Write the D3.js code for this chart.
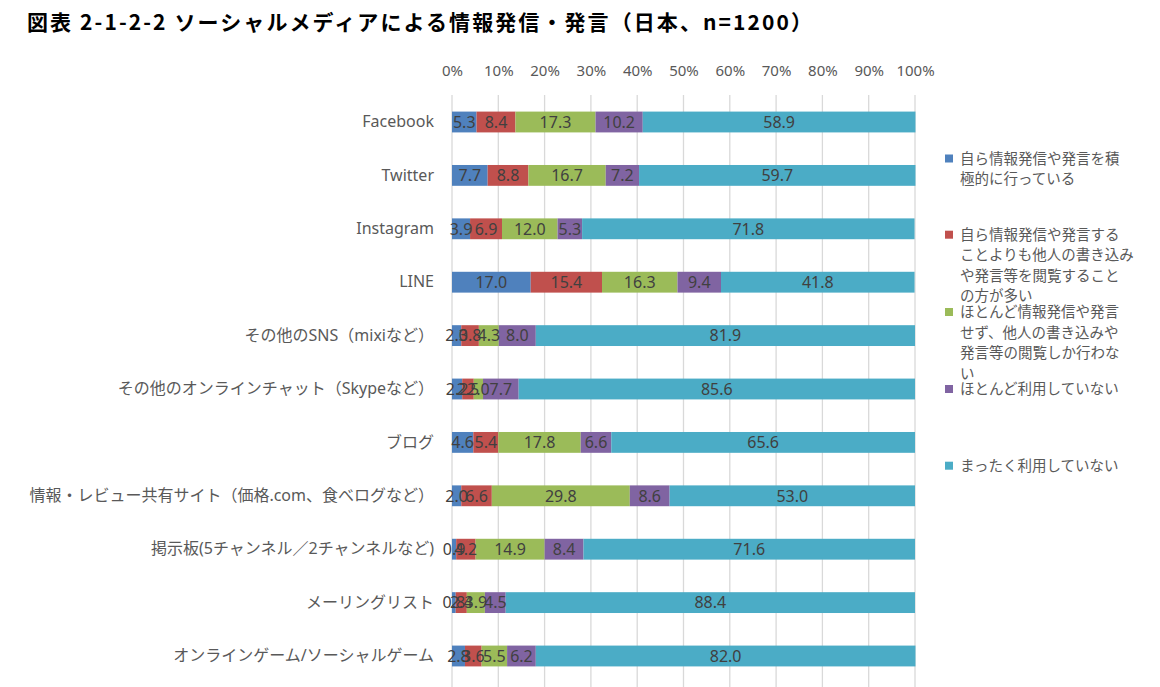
<!DOCTYPE html>
<html><head><meta charset="utf-8">
<script src="https://cdn.jsdelivr.net/npm/d3@7"></script>
<style>body{margin:0;background:#fff;} svg{display:block;}</style>
</head><body>
<svg id="c" width="1160" height="687"></svg>
<script>
const categories = ["Facebook","Twitter","Instagram","LINE","その他のSNS（mixiなど）","その他のオンラインチャット（Skypeなど）","ブログ","情報・レビュー共有サイト（価格.com、食べログなど）","掲示板(5チャンネル／2チャンネルなど)","メーリングリスト","オンラインゲーム/ソーシャルゲーム"];
const seriesNames = ["自ら情報発信や発言を積極的に行っている","自ら情報発信や発言することよりも他人の書き込みや発言等を閲覧することの方が多い","ほとんど情報発信や発言せず、他人の書き込みや発言等の閲覧しか行わない","ほとんど利用していない","まったく利用していない"];
const legendLines = [["自ら情報発信や発言を積","極的に行っている"],["自ら情報発信や発言する","ことよりも他人の書き込み","や発言等を閲覧すること","の方が多い"],["ほとんど情報発信や発言","せず、他人の書き込みや","発言等の閲覧しか行わな","い"],["ほとんど利用していない"],["まったく利用していない"]];
const active   = [5.3, 7.7, 3.9, 17.0, 2.0, 2.2, 4.6, 2.0, 0.9, 0.8, 2.8];
const browse   = [8.4, 8.8, 6.9, 15.4, 3.8, 2.5, 5.4, 6.6, 4.2, 2.4, 3.6];
const readOnly = [17.3,16.7,12.0,16.3, 4.3, 2.0,17.8,29.8,14.9, 3.9, 5.5];
const rarely   = [10.2, 7.2, 5.3, 9.4, 8.0, 7.7, 6.6, 8.6, 8.4, 4.5, 6.2];
const never    = [58.9,59.7,71.8,41.8,81.9,85.6,65.6,53.0,71.6,88.4,82.0];
const tickValues = [0,10,20,30,40,50,60,70,80,90,100];
const colors = ["#4F81BD","#C0504D","#9BBB59","#8064A2","#4BACC6"];
const series = [active, browse, readOnly, rarely, never];

const svg = d3.select("#c");
const x = d3.scaleLinear().domain([0,100]).range([452,915]);
const y = d3.scaleBand().domain(categories).range([95.3,682.7]).paddingInner(0.61).paddingOuter(0.305);

svg.append("text").attr("x",27).attr("y",30)
  .attr("font-family","'Noto Sans CJK JP'").attr("font-weight","bold").attr("font-size",21)
  .attr("textLength",785).attr("lengthAdjust","spacing")
  .attr("fill","#000").text("図表 2-1-2-2 ソーシャルメディアによる情報発信・発言（日本、n=1200）");

// gridlines
svg.append("g").selectAll("line").data(tickValues).join("line")
  .attr("x1",d=>x(d)).attr("x2",d=>x(d)).attr("y1",95).attr("y2",687)
  .attr("stroke","#d9d9d9").attr("stroke-width",1.3);

// top axis labels
const ax = svg.append("g").attr("transform","translate(0,76)")
  .call(d3.axisTop(x).tickValues(tickValues).tickFormat(d=>d+"%").tickSize(0).tickPadding(0));
ax.select(".domain").remove();
ax.selectAll("text").attr("font-family","'Noto Sans'").attr("font-size",15).attr("fill","#595959");

// stacked data
const rows = categories.map((c,i)=>{const o={cat:c}; series.forEach((s,k)=>o["s"+k]=s[i]); return o;});
const stack = d3.stack().keys(series.map((s,k)=>"s"+k))(rows);

const bars = svg.append("g");
stack.forEach((layer,k)=>{
  bars.selectAll(null).data(layer).join("rect")
    .attr("x",d=>x(d[0])).attr("width",d=>x(d[1])-x(d[0]))
    .attr("y",d=>y(d.data.cat)).attr("height",y.bandwidth())
    .attr("fill",colors[k]);
});
const labs = svg.append("g").attr("font-family","'Noto Sans'").attr("font-size",16).attr("fill","#404040").attr("text-anchor","middle");
stack.forEach((layer,k)=>{
  labs.selectAll(null).data(layer).join("text")
    .attr("x",d=>(x(d[0])+x(d[1]))/2).attr("y",d=>y(d.data.cat)+y.bandwidth()/2).attr("dy","0.36em")
    .text(d=>d.data["s"+k].toFixed(1));
});

// category axis
const cg = svg.append("g").attr("transform","translate(452,0)")
  .call(d3.axisLeft(y).tickSize(0).tickPadding(18));
cg.select(".domain").remove();
cg.selectAll("text").attr("font-family","'Noto Sans','Noto Sans CJK JP'").attr("font-size",16).attr("fill","#595959");

// legend
const legendY = [158.5,234.7,312,389,465.7];
const lg = svg.append("g").attr("font-family","'Noto Sans CJK JP'").attr("font-size",14.5).attr("fill","#595959");
seriesNames.forEach((n,k)=>{
  lg.append("rect").attr("x",945).attr("y",legendY[k]-4).attr("width",8).attr("height",8).attr("fill",colors[k]);
  const t = lg.append("text").attr("x",960).attr("y",legendY[k]).attr("dy","0.36em");
  legendLines[k].forEach((ln,j)=>t.append("tspan").attr("x",960).attr("dy",j===0?"0.36em":"20.5").text(ln));
});
</script>
</body></html>
